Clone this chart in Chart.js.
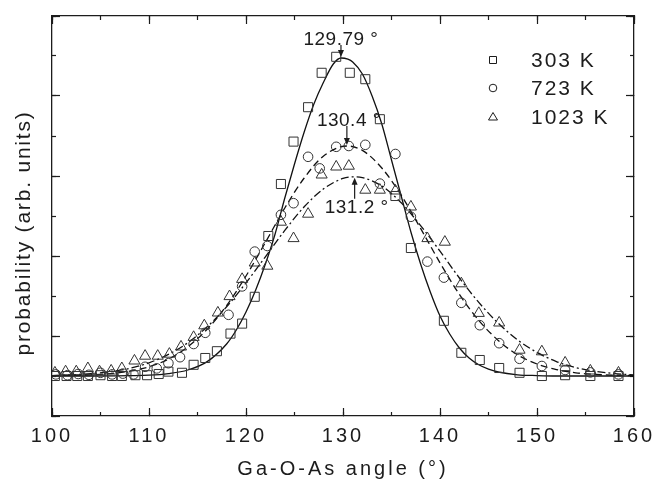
<!DOCTYPE html>
<html>
<head>
<meta charset="utf-8">
<script src="https://cdn.jsdelivr.net/npm/chart.js@4.4.1/dist/chart.umd.min.js"></script>
<style>
  html, body { margin: 0; padding: 0; background: #fff; }
  #wrap { width: 653px; height: 489px; }
</style>
</head>
<body>
<div id="wrap"><canvas id="angleChart" width="653" height="489"></canvas></div>
<script>
// Measured points (Ga-O-As angle in degrees, probability in arb. units)
const angles303 = [100.3, 101.5, 102.6, 103.7, 105.0, 106.2, 107.2, 108.6, 109.8, 111.0, 112.0, 113.4, 114.6, 115.8, 117.0, 118.4, 119.6, 120.9, 122.3, 123.6, 124.9, 126.4, 127.8, 129.3, 130.7, 132.3, 133.8, 135.4, 137.0, 140.4, 142.2, 144.1, 146.1, 148.2, 150.5, 152.9, 155.5, 158.4];
const prob303 = [0, 0, 0, 0, 0.02, 0, 0, 0.02, 0.02, 0.05, 0.11, 0.08, 0.28, 0.45, 0.62, 1.06, 1.31, 1.98, 3.5, 4.8, 5.86, 6.72, 7.58, 7.98, 7.58, 7.42, 6.42, 4.5, 3.2, 1.38, 0.58, 0.4, 0.2, 0.08, 0, 0.02, 0, 0];

const angles723 = [100.4, 101.6, 102.7, 103.8, 105.0, 106.2, 107.3, 108.4, 109.6, 110.8, 112.0, 113.2, 114.6, 115.8, 118.2, 119.6, 120.9, 122.2, 123.6, 124.9, 126.4, 127.6, 129.3, 130.6, 132.3, 133.8, 135.4, 137.0, 138.7, 140.4, 142.2, 144.1, 146.1, 148.2, 150.5, 152.9, 155.5, 158.4];
const prob723 = [0.04, 0.02, 0.05, 0.03, 0.08, 0.04, 0.06, 0.04, 0.23, 0.19, 0.32, 0.47, 0.8, 1.08, 1.53, 2.24, 3.11, 3.25, 4.03, 4.32, 5.48, 5.19, 5.73, 5.75, 5.78, 4.81, 5.55, 3.98, 2.86, 2.46, 1.83, 1.27, 0.82, 0.43, 0.25, 0.15, 0.09, 0.04];

const angles1023 = [100.3, 101.4, 102.5, 103.7, 104.9, 106.1, 107.2, 108.5, 109.6, 110.9, 112.1, 113.3, 114.6, 115.7, 117.1, 118.3, 119.6, 120.9, 122.2, 123.6, 124.9, 126.4, 127.8, 129.3, 130.6, 132.3, 133.8, 135.4, 137.0, 138.7, 140.5, 142.2, 144.0, 146.1, 148.2, 150.5, 152.9, 155.5, 158.4];
const prob1023 = [0.08, 0.11, 0.11, 0.19, 0.11, 0.13, 0.19, 0.38, 0.5, 0.5, 0.55, 0.73, 0.97, 1.26, 1.58, 1.99, 2.42, 2.83, 2.75, 3.85, 3.44, 4.05, 5.03, 5.23, 5.25, 4.65, 4.65, 4.63, 4.23, 3.44, 3.35, 2.31, 1.57, 1.33, 0.65, 0.61, 0.33, 0.13, 0.08];

// Fitted curves
const fitAngles303 = [100, 104, 108, 110, 112, 114, 116, 118, 119, 120, 121, 122, 123, 124, 125, 126, 127, 128, 129, 129.8, 130.5, 131, 132, 133, 134, 135, 136, 137, 138, 139, 140, 141, 142, 143, 144, 145, 146, 148, 150, 152, 156, 160];
const fitProb303 = [0, 0, 0.01, 0.02, 0.06, 0.15, 0.36, 0.8, 1.15, 1.6, 2.15, 2.8, 3.55, 4.45, 5.3, 6.1, 6.8, 7.35, 7.8, 7.95, 7.92, 7.85, 7.55, 7.0, 6.3, 5.4, 4.5, 3.6, 2.8, 2.1, 1.5, 1.05, 0.7, 0.45, 0.28, 0.17, 0.1, 0.03, 0.01, 0, 0, 0];

const fitAngles723 = [100, 104, 106, 108, 110, 112, 114, 116, 118, 120, 122, 124, 126, 128, 130.4, 132, 134, 136, 138, 140, 142, 144, 146, 148, 150, 152, 154, 156, 158, 160];
const fitProb723 = [0.01, 0.03, 0.06, 0.12, 0.23, 0.42, 0.73, 1.17, 1.76, 2.5, 3.34, 4.2, 4.95, 5.5, 5.75, 5.64, 5.2, 4.52, 3.69, 2.83, 2.04, 1.39, 0.89, 0.53, 0.3, 0.16, 0.08, 0.04, 0.02, 0.01];

const fitAngles1023 = [100, 102, 104, 106, 108, 110, 112, 114, 116, 118, 120, 122, 124, 126, 128, 130, 131.2, 132, 134, 136, 138, 140, 142, 144, 146, 148, 150, 152, 154, 156, 158, 160];
const fitProb1023 = [0.01, 0.03, 0.06, 0.11, 0.19, 0.33, 0.54, 0.83, 1.23, 1.73, 2.33, 2.98, 3.64, 4.23, 4.68, 4.94, 4.98, 4.96, 4.75, 4.33, 3.76, 3.12, 2.45, 1.84, 1.32, 0.9, 0.59, 0.36, 0.21, 0.12, 0.06, 0.03];

// Peak positions marked with arrows
const peakAngles = [129.79, 130.4, 131.2];
const peakHeights = [7.95, 5.75, 4.98];
const peakLabels = ['129.79 °', '130.4 °', '131.2 °'];

const seriesLabels = ['303 K', '723 K', '1023 K'];
const xTickValues = [100, 110, 120, 130, 140, 150, 160];

const INK = '#1c1c1c';
const FONT = "'Liberation Sans', Arial, sans-serif";

function toPoints(xs, ys) {
    return xs.map((x, i) => ({ x: x, y: ys[i] }));
}

// the original lettering is set wide; the axis text gets extra tracking
const wideText = {
    id: 'wideText',
    beforeDraw(chart) {
        chart.ctx.letterSpacing = '3px';
    }
};

// Draw peak labels, arrows, in-plot legend and the y title
const figureNotes = {
    id: 'figureNotes',
    afterDatasetsDraw(chart) {
        const ctx = chart.ctx;
        const xs = chart.scales.x;
        const ys = chart.scales.y;
        const area = chart.chartArea;
        ctx.save();
        ctx.letterSpacing = '0.5px';
        ctx.fillStyle = INK;
        ctx.strokeStyle = INK;
        ctx.lineWidth = 1.2;
        ctx.font = '19px ' + FONT;
        ctx.textAlign = 'center';

        const arrow = (x, yTail, yTip) => {
            const dir = yTip > yTail ? 1 : -1;
            ctx.beginPath();
            ctx.moveTo(x, yTail);
            ctx.lineTo(x, yTip - dir * 5);
            ctx.stroke();
            ctx.beginPath();
            ctx.moveTo(x, yTip);
            ctx.lineTo(x - 3, yTip - dir * 7);
            ctx.lineTo(x + 3, yTip - dir * 7);
            ctx.closePath();
            ctx.fill();
        };

        // 303 K: label above, arrow pointing down
        let px = xs.getPixelForValue(peakAngles[0]);
        let py = ys.getPixelForValue(peakHeights[0]);
        arrow(px, py - 13, py - 1);
        ctx.textBaseline = 'alphabetic';
        ctx.fillText(peakLabels[0], px, py - 13);

        // 723 K: label above, arrow pointing down
        px = xs.getPixelForValue(peakAngles[1]);
        py = ys.getPixelForValue(peakHeights[1]);
        arrow(px, py - 20, py - 1);
        ctx.fillText(peakLabels[1], px + 2, py - 20);

        // 1023 K: label below, arrow pointing up
        px = xs.getPixelForValue(peakAngles[2]);
        py = ys.getPixelForValue(peakHeights[2]);
        arrow(px, py + 22, py + 1);
        ctx.textBaseline = 'top';
        ctx.fillText(peakLabels[2], px + 2, py + 21);

        // legend inside the frame
        ctx.font = '21px ' + FONT;
        ctx.letterSpacing = '2px';
        ctx.textAlign = 'left';
        ctx.textBaseline = 'middle';
        ctx.lineWidth = 1;
        const mx = area.right - 141;
        const tx = area.right - 103;
        const rows = [area.top + 44, area.top + 72, area.top + 101];
        rows.forEach((ry, i) => {
            ctx.beginPath();
            if (i === 0) {
                ctx.rect(mx - 3.5, ry - 3.5, 7, 7);
            } else if (i === 1) {
                ctx.arc(mx, ry, 3.8, 0, Math.PI * 2);
            } else {
                ctx.moveTo(mx, ry - 4.5);
                ctx.lineTo(mx + 4.5, ry + 3);
                ctx.lineTo(mx - 4.5, ry + 3);
                ctx.closePath();
            }
            ctx.stroke();
            ctx.fillText(seriesLabels[i], tx, ry + 1);
        });

        // y axis title, rotated
        ctx.font = '21px ' + FONT;
        ctx.letterSpacing = '1.8px';
        ctx.textAlign = 'center';
        ctx.textBaseline = 'middle';
        ctx.translate(24, (area.top + area.bottom) / 2 + 17);
        ctx.rotate(-Math.PI / 2);
        ctx.fillText('probability (arb. units)', 0, 0);
        ctx.restore();
    }
};

const markerStyle = {
    showLine: false,
    backgroundColor: 'rgba(0,0,0,0)',
    borderColor: '#333',
    borderWidth: 1,
    pointBorderWidth: 1
};
const curveStyle = {
    showLine: true,
    pointRadius: 0,
    pointHoverRadius: 0,
    borderColor: '#111',
    borderWidth: 1.3,
    cubicInterpolationMode: 'monotone',
    fill: false
};

const frameGrid = (len) => ({ drawOnChartArea: false, tickLength: len, color: INK, tickColor: INK, tickWidth: 1.2 });
// fixed box sizes so the frame lands where the original has it
const fixHeight = (h) => (scale) => { scale.height = h; scale.paddingLeft = 0; scale.paddingRight = 0; };
const fixWidth = (w) => (scale) => { scale.width = w; scale.paddingTop = 0; scale.paddingBottom = 0; };

const ctx = document.getElementById('angleChart').getContext('2d');
const angleChart = new Chart(ctx, {
    type: 'scatter',
    data: {
        datasets: [
            Object.assign({ label: seriesLabels[0], data: toPoints(angles303, prob303), pointStyle: 'rect', pointRadius: 6.4 }, markerStyle),
            Object.assign({ label: seriesLabels[1], data: toPoints(angles723, prob723), pointStyle: 'circle', pointRadius: 4.8 }, markerStyle),
            Object.assign({ label: seriesLabels[2], data: toPoints(angles1023, prob1023), pointStyle: 'triangle', pointRadius: 6.4 }, markerStyle),
            Object.assign({ label: 'fit 303 K', data: toPoints(fitAngles303, fitProb303) }, curveStyle),
            Object.assign({ label: 'fit 723 K', data: toPoints(fitAngles723, fitProb723), borderDash: [7, 4] }, curveStyle),
            Object.assign({ label: 'fit 1023 K', data: toPoints(fitAngles1023, fitProb1023), borderDash: [8, 3, 2, 3] }, curveStyle)
        ]
    },
    options: {
        responsive: false,
        animation: false,
        layout: { padding: 0 },
        plugins: {
            legend: { display: false },
            tooltip: { enabled: false }
        },
        scales: {
            x: {
                type: 'linear', position: 'bottom', weight: 1, min: 100, max: 160,
                afterBuildTicks: (scale) => { scale.ticks = xTickValues.map(v => ({ value: v })); },
                ticks: { color: INK, font: { family: FONT, size: 20 }, padding: 16 },
                grid: frameGrid(-8),
                border: { color: INK, width: 1.3 },
                title: { display: true, text: 'Ga-O-As angle (°)', color: INK, font: { family: FONT, size: 20 }, padding: { top: 0, bottom: 8 } },
                afterFit: fixHeight(73)
            },
            xMinor: {
                type: 'linear', position: 'bottom', weight: 0, min: 100, max: 160,
                ticks: { display: false, stepSize: 5 },
                grid: frameGrid(-4),
                border: { display: false },
                afterFit: fixHeight(0)
            },
            xTop: {
                type: 'linear', position: 'top', weight: 1, min: 100, max: 160,
                ticks: { display: false, stepSize: 10 },
                grid: frameGrid(-8),
                border: { color: INK, width: 1.3 },
                afterFit: fixHeight(16)
            },
            xTopMinor: {
                type: 'linear', position: 'top', weight: 0, min: 100, max: 160,
                ticks: { display: false, stepSize: 5 },
                grid: frameGrid(-4),
                border: { display: false },
                afterFit: fixHeight(0)
            },
            y: {
                type: 'linear', position: 'left', weight: 1, min: -1, max: 9,
                ticks: { display: false, stepSize: 2 },
                grid: frameGrid(-8),
                border: { color: INK, width: 1.3 },
                afterFit: fixWidth(52)
            },
            yMinor: {
                type: 'linear', position: 'left', weight: 0, min: -1, max: 9,
                ticks: { display: false, stepSize: 1 },
                grid: frameGrid(-4),
                border: { display: false },
                afterFit: fixWidth(0)
            },
            yRight: {
                type: 'linear', position: 'right', weight: 1, min: -1, max: 9,
                ticks: { display: false, stepSize: 2 },
                grid: frameGrid(-8),
                border: { color: INK, width: 1.3 },
                afterFit: fixWidth(19)
            },
            yRightMinor: {
                type: 'linear', position: 'right', weight: 0, min: -1, max: 9,
                ticks: { display: false, stepSize: 1 },
                grid: frameGrid(-4),
                border: { display: false },
                afterFit: fixWidth(0)
            }
        }
    },
    plugins: [wideText, figureNotes]
});
</script>
</body>
</html>
